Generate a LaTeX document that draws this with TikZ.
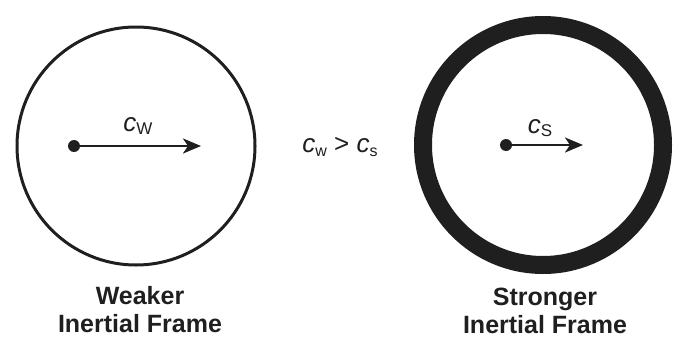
\documentclass[tikz,border=0pt]{standalone}
\usepackage{fontspec}
\setmainfont{Liberation Sans}
\usetikzlibrary{arrows.meta}
\tikzset{
  vec/.style={line width=2.6pt,-{Stealth[length=18pt,width=15pt,inset=5pt]}},
  dotnode/.style={circle,fill=black!88,inner sep=0pt,minimum size=12pt},
  lbl/.style={font=\fontsize{25}{28}\selectfont\bfseries,align=center,text=black!88},
  sym/.style={font=\fontsize{26}{26}\selectfont,text=black!88,inner sep=0pt}
}
\newcommand{\symc}[1]{\textit{c}\raisebox{-0.25ex}{\fontsize{17}{17}\selectfont #1}}
\newcommand{\symcs}[1]{\textit{c}\raisebox{-0.3ex}{\fontsize{16}{16}\selectfont #1}}
\begin{document}
\begin{tikzpicture}[x=1pt,y=-1pt]
\useasboundingbox (0,0) rectangle (680,340);
\draw[line width=3pt,black!88] (136,146) circle[radius=119];
\draw[line width=18pt,black!88] (543,145) circle[radius=120];
\node[dotnode] (d1) at (74,146) {};
\coordinate (t1) at (201,146);
\draw[vec,black!88] (d1.center) -- (t1);
\node[sym] (cw) at (138,126) {\symc{W}};
\node[dotnode] (d2) at (506,145) {};
\coordinate (t2) at (583,145);
\draw[vec,black!88] (d2.center) -- (t2);
\node[sym] (cs) at (540,128) {\symc{S}};
\node[sym] (rel) at (340,147) {\symcs{w} > \symcs{s}};
\node[lbl] (wl) at (140,310) {Weaker\\Inertial Frame};
\node[lbl] (sl) at (545,311) {Stronger\\Inertial Frame};
\end{tikzpicture}
\end{document}
